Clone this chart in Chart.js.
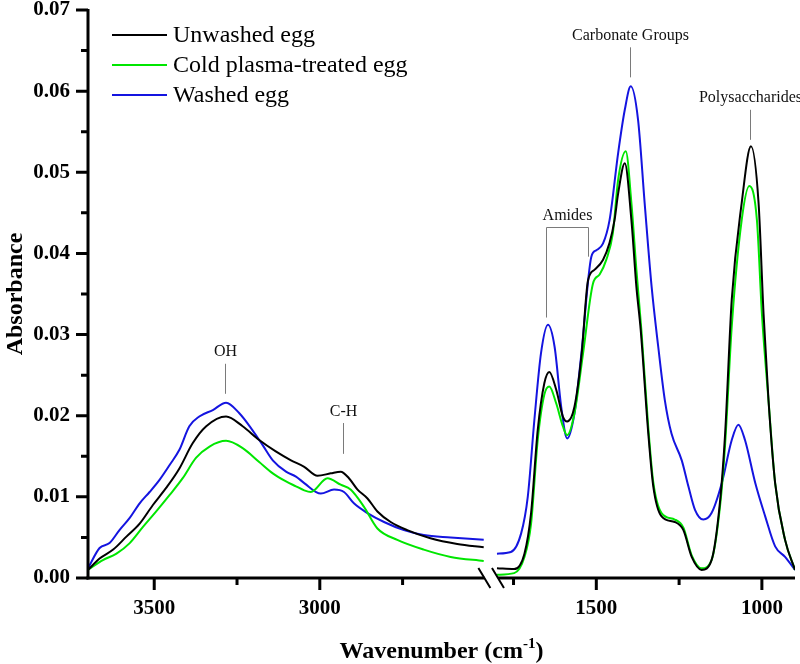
<!DOCTYPE html>
<html><head><meta charset="utf-8">
<script src="https://cdn.jsdelivr.net/npm/chart.js@4/dist/chart.umd.min.js"></script>
<style>html,body{margin:0;padding:0;background:#fff}</style>
</head><body>
<canvas id="c" width="800" height="664"></canvas>
<script>
// ---------------- data ----------------
const seriesNames = ['Unwashed egg', 'Cold plasma-treated egg', 'Washed egg'];
const seriesColors = ['#000000', '#00e600', '#1414e0'];

const unwashedWn = [3700,3665,3624,3584,3544,3504,3464,3424,3384,3343,3283,3233,3183,3133,3087,3047,3007,2967,2937,2912,2886,2856,2826,2786,2736,2666,2585,2505,
  1800,1748,1717,1697,1677,1657,1642,1621,1601,1588,1566,1545,1525,1505,1480,1460,1445,1434,1414,1394,1379,1366,1343,1328,1303,1263,1237,1212,1182,1152,1126,1111,1091,1061,1033,1010,995,980,960,930,900];
const unwashedAbs = [0.0010,0.0024,0.0035,0.0051,0.0067,0.0090,0.0111,0.0135,0.0166,0.0187,0.0199,0.0187,0.0170,0.0156,0.0145,0.0137,0.0126,0.0129,0.0131,0.0123,0.0109,0.0098,0.0082,0.0069,0.0059,0.0049,0.0042,0.0038,
  0.0012,0.0011,0.0030,0.0080,0.0182,0.0240,0.0254,0.0232,0.0199,0.0193,0.0211,0.0273,0.0367,0.0380,0.0392,0.0413,0.0441,0.0474,0.0511,0.0441,0.0359,0.0306,0.0178,0.0113,0.0076,0.0069,0.0059,0.0026,0.0010,0.0022,0.0096,0.0178,0.0343,0.0462,0.0532,0.0462,0.0326,0.0219,0.0117,0.0047,0.0010];

const plasmaWn = [3700,3655,3614,3574,3534,3494,3454,3414,3374,3333,3283,3233,3183,3142,3102,3072,3047,3027,2977,2937,2907,2867,2826,2766,2686,2605,2505,
  1800,1748,1717,1697,1677,1657,1642,1621,1601,1588,1566,1540,1510,1490,1470,1450,1434,1411,1394,1379,1364,1343,1328,1303,1263,1237,1212,1182,1152,1126,1111,1091,1061,1038,1015,1000,980,960,930,900];
const plasmaAbs = [0.0010,0.0022,0.0030,0.0043,0.0063,0.0082,0.0102,0.0123,0.0148,0.0162,0.0169,0.0160,0.0143,0.0129,0.0119,0.0113,0.0108,0.0106,0.0123,0.0115,0.0109,0.0088,0.0061,0.0047,0.0035,0.0026,0.0021,
  0.0004,0.0006,0.0026,0.0067,0.0170,0.0226,0.0236,0.0215,0.0187,0.0176,0.0203,0.0277,0.0363,0.0374,0.0392,0.0425,0.0491,0.0526,0.0462,0.0380,0.0306,0.0185,0.0118,0.0080,0.0072,0.0062,0.0028,0.0012,0.0022,0.0090,0.0165,0.0310,0.0441,0.0483,0.0441,0.0326,0.0219,0.0117,0.0047,0.0010];

const washedWn = [3700,3665,3635,3605,3574,3544,3514,3484,3454,3424,3394,3364,3323,3283,3243,3203,3173,3142,3102,3072,3047,2997,2957,2927,2897,2856,2806,2746,2686,2605,2505,
  1800,1758,1727,1707,1687,1667,1646,1626,1606,1588,1566,1545,1515,1500,1480,1460,1434,1414,1396,1374,1354,1333,1313,1293,1273,1242,1222,1202,1177,1152,1121,1091,1071,1051,1020,990,960,930,900];
const washedAbs = [0.0012,0.0037,0.0043,0.0059,0.0074,0.0092,0.0106,0.0121,0.0139,0.0158,0.0187,0.0199,0.0207,0.0216,0.0203,0.0182,0.0164,0.0145,0.0131,0.0125,0.0117,0.0104,0.0109,0.0106,0.0092,0.0080,0.0069,0.0059,0.0053,0.0050,0.0047,
  0.0030,0.0032,0.0055,0.0100,0.0195,0.0277,0.0312,0.0285,0.0211,0.0172,0.0203,0.0277,0.0396,0.0404,0.0412,0.0441,0.0524,0.0577,0.0606,0.0565,0.0462,0.0359,0.0285,0.0219,0.0178,0.0145,0.0113,0.0084,0.0072,0.0080,0.0117,0.0170,0.0189,0.0170,0.0117,0.0076,0.0039,0.0026,0.0010];

const xMajorTicks = [3500, 3000, 1500, 1000];
const xMinorTicks = [3250, 2750, 1750, 1250];
const yMajorTicks = [0, 0.01, 0.02, 0.03, 0.04, 0.05, 0.06, 0.07];
const yMinorTicks = [0.005, 0.015, 0.025, 0.035, 0.045, 0.055, 0.065];

// broken axis: 3700-2500 | 1800-900
const LEFT_START = 3700, LEFT_END = 2500, RIGHT_START = 1800, RIGHT_END = 900, GAP = 35;
const wnToPos = w => w >= LEFT_END ? (LEFT_START - w) : (LEFT_START - LEFT_END + GAP + (RIGHT_START - w));
const X_MAX = wnToPos(RIGHT_END);

function buildPoints(wn, ab) {
  const pts = [];
  for (let i = 0; i < wn.length; i++) {
    if (i > 0 && wn[i - 1] >= LEFT_END && wn[i] <= RIGHT_START) {
      pts.push({ x: LEFT_START - LEFT_END + GAP / 2, y: null });
    }
    pts.push({ x: wnToPos(wn[i]), y: ab[i] });
  }
  return pts;
}

const annotations = [
  { text: 'OH', wn: 3285, y0: 0.0227, y1: 0.0264, ty: 0.0274 },
  { text: 'C-H', wn: 2931, y0: 0.0153, y1: 0.0191, ty: 0.0200 },
  { text: 'Carbonate Groups', wn: 1397, y0: 0.0617, y1: 0.0654, ty: 0.0663 },
  { text: 'Polysaccharides', wn: 1036, y0: 0.0540, y1: 0.0577, ty: 0.0587 }
];
const amides = { text: 'Amides', wnA: 1652, wnB: 1524, yTop: 0.0433, yA: 0.0321, yB: 0.0396, ty: 0.0441 };

const SERIF = '"Liberation Serif", "Times New Roman", serif';

const decor = {
  id: 'decor',
  afterDraw(chart) {
    const ctx = chart.ctx;
    const xs = chart.scales.x, ys = chart.scales.y;
    const area = chart.chartArea;
    const X = w => xs.getPixelForValue(wnToPos(w));
    const Y = v => ys.getPixelForValue(v);
    ctx.save();
    ctx.strokeStyle = '#000';
    ctx.lineCap = 'butt';
    // y axis line
    ctx.lineWidth = 3;
    ctx.beginPath();
    ctx.moveTo(area.left, Y(0.07) - 1);
    ctx.lineTo(area.left, area.bottom + 1.5);
    ctx.stroke();
    // x axis line in two pieces
    const bx1 = X(LEFT_END) - 1, bx2 = X(RIGHT_START) + 1;
    ctx.beginPath();
    ctx.moveTo(area.left - 1.5, area.bottom);
    ctx.lineTo(bx1, area.bottom);
    ctx.moveTo(bx2, area.bottom);
    ctx.lineTo(area.right, area.bottom);
    ctx.stroke();
    // break marks
    ctx.lineWidth = 2;
    ctx.beginPath();
    [bx1, bx2].forEach(cx => {
      ctx.moveTo(cx - 6, area.bottom - 10);
      ctx.lineTo(cx + 6, area.bottom + 10);
    });
    ctx.stroke();
    // ticks
    ctx.lineWidth = 3;
    ctx.beginPath();
    yMajorTicks.forEach(v => { ctx.moveTo(area.left - 12, Y(v)); ctx.lineTo(area.left, Y(v)); });
    yMinorTicks.forEach(v => { ctx.moveTo(area.left - 7, Y(v)); ctx.lineTo(area.left, Y(v)); });
    xMajorTicks.forEach(w => { ctx.moveTo(X(w), area.bottom); ctx.lineTo(X(w), area.bottom + 12); });
    xMinorTicks.forEach(w => { ctx.moveTo(X(w), area.bottom); ctx.lineTo(X(w), area.bottom + 7); });
    ctx.stroke();

    // annotations
    ctx.strokeStyle = '#7a7a7a';
    ctx.lineWidth = 1;
    ctx.fillStyle = '#111';
    ctx.font = '16px ' + SERIF;
    ctx.textAlign = 'center';
    ctx.textBaseline = 'alphabetic';
    annotations.forEach(a => {
      const x = Math.round(X(a.wn)) + 0.5;
      ctx.beginPath();
      ctx.moveTo(x, Y(a.y0));
      ctx.lineTo(x, Y(a.y1));
      ctx.stroke();
      ctx.fillText(a.text, x, Y(a.ty));
    });
    {
      const xa = Math.round(X(amides.wnA)) + 0.5, xb = Math.round(X(amides.wnB)) + 0.5;
      const yt = Math.round(Y(amides.yTop)) + 0.5;
      ctx.beginPath();
      ctx.moveTo(xa, Y(amides.yA));
      ctx.lineTo(xa, yt);
      ctx.lineTo(xb, yt);
      ctx.lineTo(xb, Y(amides.yB));
      ctx.stroke();
      ctx.fillText(amides.text, (xa + xb) / 2, Y(amides.ty));
    }

    // legend
    ctx.font = '24px ' + SERIF;
    ctx.textAlign = 'left';
    ctx.textBaseline = 'middle';
    chart.data.datasets.forEach((ds, i) => {
      const ly = 35 + i * 30;
      ctx.strokeStyle = ds.borderColor;
      ctx.lineWidth = 2;
      ctx.beginPath();
      ctx.moveTo(112, ly);
      ctx.lineTo(167, ly);
      ctx.stroke();
      ctx.fillStyle = '#000';
      ctx.fillText(ds.label, 173, ly + 1);
    });

    // axis titles
    ctx.fillStyle = '#000';
    ctx.font = 'bold 24px ' + SERIF;
    ctx.save();
    ctx.translate(22, (area.top + area.bottom) / 2);
    ctx.rotate(-Math.PI / 2);
    ctx.textAlign = 'center';
    ctx.textBaseline = 'alphabetic';
    ctx.fillText('Absorbance', 0, 0);
    ctx.restore();

    const main1 = 'Wavenumber (cm', sup = '-1', main2 = ')';
    ctx.font = 'bold 24px ' + SERIF;
    const w1 = ctx.measureText(main1).width, w3 = ctx.measureText(main2).width;
    ctx.font = 'bold 15px ' + SERIF;
    const w2 = ctx.measureText(sup).width;
    const cx = (area.left + area.right) / 2;
    let sx = cx - (w1 + w2 + w3) / 2;
    const by = 658;
    ctx.textAlign = 'left';
    ctx.textBaseline = 'alphabetic';
    ctx.font = 'bold 24px ' + SERIF;
    ctx.fillText(main1, sx, by);
    ctx.font = 'bold 15px ' + SERIF;
    ctx.fillText(sup, sx + w1, by - 10);
    ctx.font = 'bold 24px ' + SERIF;
    ctx.fillText(main2, sx + w1 + w2, by);
    ctx.restore();
  }
};

const datasets = [
  [unwashedWn, unwashedAbs],
  [plasmaWn, plasmaAbs],
  [washedWn, washedAbs]
].map((s, i) => ({
  label: seriesNames[i],
  data: buildPoints(s[0], s[1]),
  borderColor: seriesColors[i],
  backgroundColor: seriesColors[i],
  borderWidth: 2,
  pointRadius: 0,
  fill: false,
  spanGaps: false,
  cubicInterpolationMode: 'monotone'
}));
datasets[0].order = 1; datasets[1].order = 2; datasets[2].order = 3;

new Chart(document.getElementById('c'), {
  type: 'line',
  data: { datasets },
  options: {
    responsive: false,
    animation: false,
    devicePixelRatio: 1,
    layout: { padding: { top: 10, right: 5, left: 0, bottom: 0 } },
    plugins: { legend: { display: false }, tooltip: { enabled: false } },
    scales: {
      x: {
        type: 'linear',
        min: 0,
        max: X_MAX,
        grid: { display: false, drawTicks: false },
        border: { display: false },
        afterFit: s => { s.height = 86; s.paddingLeft = 0; s.paddingRight = 0; },
        afterBuildTicks: s => { s.ticks = xMajorTicks.map(w => ({ value: wnToPos(w) })); },
        ticks: {
          autoSkip: false,
          maxRotation: 0,
          padding: 18,
          color: '#000',
          font: { family: SERIF, size: 21, weight: 'bold' },
          callback: (v, i) => String(xMajorTicks[i])
        }
      },
      y: {
        type: 'linear',
        min: 0,
        max: 0.07,
        grid: { display: false, drawTicks: false },
        border: { display: false },
        afterFit: s => { s.width = 88; s.paddingTop = 0; s.paddingBottom = 0; },
        afterBuildTicks: s => { s.ticks = yMajorTicks.map(v => ({ value: v })); },
        ticks: {
          padding: 18,
          color: '#000',
          font: { family: SERIF, size: 21, weight: 'bold' },
          callback: v => v.toFixed(2)
        }
      }
    }
  },
  plugins: [decor]
});
</script>
</body></html>
